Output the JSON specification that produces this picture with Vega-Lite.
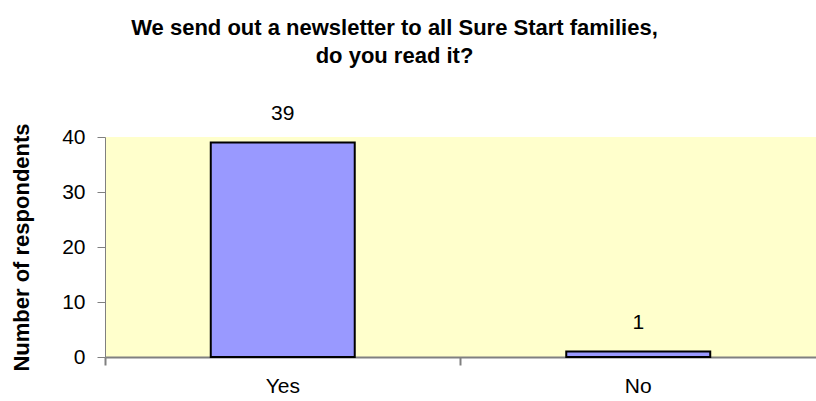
{
  "$schema": "https://vega.github.io/schema/vega-lite/v6.json",
  "width": 711,
  "height": 220,
  "autosize": {"type": "none"},
  "padding": {"left": 105, "top": 137, "right": 0, "bottom": 44},
  "background": "white",
  "config": {
    "font": "Liberation Sans",
    "view": {"fill": "#FFFFCC", "stroke": null}
  },
  "title": {
    "text": ["We send out a newsletter to all Sure Start families,", "do you read it?"],
    "font": "Liberation Sans",
    "fontSize": 22,
    "fontWeight": "bold",
    "color": "black",
    "anchor": "middle",
    "frame": "group",
    "dx": -66,
    "lineHeight": 28,
    "offset": 35
  },
  "data": {
    "values": [
      {"answer": "Yes", "count": 39},
      {"answer": "No", "count": 1}
    ]
  },
  "layer": [
    {
      "mark": {"type": "bar", "fill": "#9999FF", "stroke": "black", "strokeWidth": 2},
      "encoding": {
        "x": {
          "field": "answer", "type": "nominal", "sort": ["Yes", "No"],
          "scale": {"paddingInner": 0.595, "paddingOuter": 0.2975},
          "axis": {
            "title": null, "labelAngle": 0, "ticks": false, "domain": true,
            "domainColor": "#808080", "domainWidth": 2,
            "labelFont": "Liberation Sans", "labelFontSize": 21, "labelColor": "black",
            "labelPadding": 18
          }
        },
        "y": {
          "field": "count", "type": "quantitative",
          "scale": {"domain": [0, 40], "nice": false},
          "axis": {
            "title": "Number of respondents", "values": [0, 10, 20, 30, 40],
            "grid": false, "domainColor": "#808080", "domainWidth": 1,
            "tickColor": "#808080", "tickSize": 8,
            "labelFont": "Liberation Sans", "labelFontSize": 21, "labelColor": "black",
            "labelPadding": 12,
            "titleFont": "Liberation Sans", "titleFontSize": 22, "titleFontWeight": "bold",
            "titleColor": "black", "titlePadding": 28
          }
        }
      }
    },
    {
      "mark": {"type": "text", "baseline": "bottom", "dy": -19, "font": "Liberation Sans", "fontSize": 21, "color": "black"},
      "encoding": {
        "x": {
          "field": "answer", "type": "nominal", "sort": ["Yes", "No"],
          "axis": {
            "orient": "bottom", "labels": false, "domain": false,
            "ticks": true, "tickOffset": -178, "tickColor": "#808080", "tickSize": 8, "tickWidth": 2, "title": null
          }
        },
        "y": {"field": "count", "type": "quantitative"},
        "text": {"field": "count", "type": "quantitative"}
      }
    }
  ],
  "resolve": {"axis": {"x": "independent"}}
}
